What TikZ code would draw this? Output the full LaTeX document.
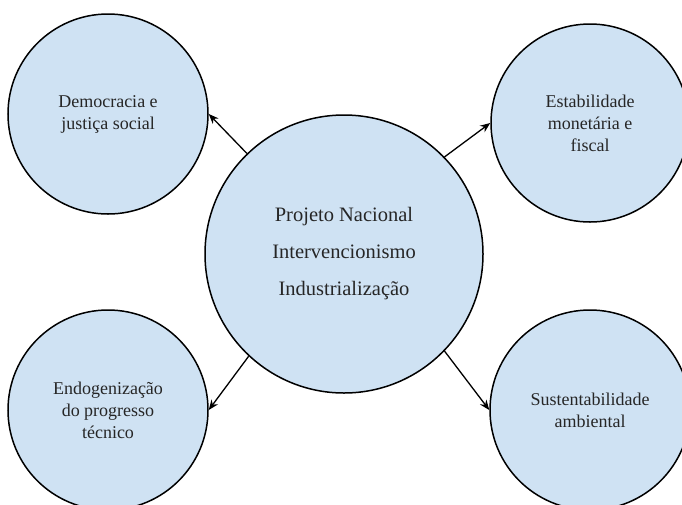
\documentclass[tikz,border=0pt]{standalone}
\usepackage{fontspec}
\setmainfont{Liberation Serif}
\newfontfamily\labelfont{Liberation Serif}
\usetikzlibrary{arrows.meta}
\definecolor{bubblefill}{HTML}{CFE2F3}
\definecolor{inkgray}{HTML}{262626}
\tikzset{
  bubble/.style={circle, draw=black, line width=1.5pt, fill=bubblefill, inner sep=0pt,
    align=center, text=inkgray, font=\labelfont\fontsize{18}{22}\selectfont},
  bigbubble/.style={bubble, font=\labelfont\fontsize{20.5}{37}\selectfont},
  link/.style={line width=1.3pt, -{Stealth[length=10pt,width=8pt]}}
}
\begin{document}
\begin{tikzpicture}[x=1pt,y=-1pt]
\useasboundingbox (0,0) rectangle (682,504);
\clip (0,0) rectangle (682,504);
\node[bigbubble, minimum size=278pt] (c) at (344,254) {Projeto Nacional\\Intervencionismo\\Industrialização};
\node[bubble, minimum size=200pt] (tl) at (108,114) {Democracia e\\justiça social};
\node[bubble, minimum size=198pt] (tr) at (590,123) {Estabilidade\\monetária e\\fiscal};
\node[bubble, minimum size=200pt] (bl) at (108,410) {Endogenização\\do progresso\\técnico};
\node[bubble, minimum size=200pt] (br) at (590,410) {Sustentabilidade\\ambiental};
\draw[link] (c.134) -- (tl.east);
\draw[link] (c.44) -- (tr.west);
\draw[link] (c.227) -- (bl.east);
\draw[link] (c.316) -- (br.west);
\end{tikzpicture}
\end{document}
